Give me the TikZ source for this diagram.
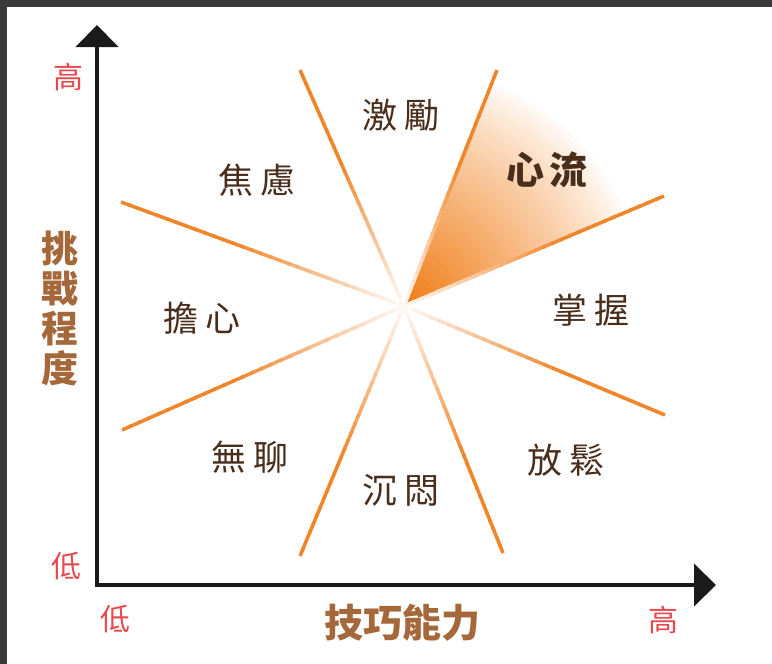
\documentclass[tikz,border=0pt]{standalone}
\usepackage{fontspec}
\setmainfont{Noto Sans CJK TC}
\usetikzlibrary{arrows.meta,calc}
\definecolor{framegray}{HTML}{3A3A3A}
\definecolor{lineor}{HTML}{F0862A}
\definecolor{flowor}{HTML}{F07E18}
\definecolor{zonebrown}{HTML}{4A2E1C}
\definecolor{axisred}{HTML}{E5484D}
\definecolor{axisbrown}{HTML}{A5683A}
\definecolor{axisblack}{HTML}{1A1A1A}
\begin{document}
\begin{tikzpicture}[x=1pt,y=-1pt,
  zonelabel/.style={text=zonebrown,font=\fontsize{35}{40}\selectfont,inner sep=0pt},
  flowlabel/.style={text=zonebrown,font=\bfseries\fontsize{38}{42}\selectfont,inner sep=0pt},
  levellabel/.style={text=axisred,font=\fontsize{30}{34}\selectfont,inner sep=0pt},
  axistitle/.style={text=axisbrown,font=\bfseries\fontsize{39}{42}\selectfont,inner sep=0pt},
  axisline/.style={draw=axisblack,line width=4.5pt,line join=miter,
    {Triangle[width=42pt,length=22pt]}-{Triangle[width=42pt,length=22pt]}}]
\useasboundingbox (0,0) rectangle (772,664);
\fill[framegray] (0,0) rectangle (772,664);
\fill[white] (7,7) rectangle (772,664);

% centre and ray ends
\coordinate (C) at (404,306);
\coordinate (ul) at (121,202);
\coordinate (tl) at (300,70);
\coordinate (tr) at (497,70);
\coordinate (ru) at (664,196);
\coordinate (rl) at (665,415);
\coordinate (br) at (503,553);
\coordinate (bl) at (300,556);
\coordinate (ll) at (122,430);

% flow wedge with gradient
\begin{scope}
  \clip (C) -- (tr) -- (ru) -- cycle;
  \foreach \k in {50,...,1}{
    \pgfmathsetmacro\p{100*(1-(\k-1)/50)^0.85}
    \fill[flowor!\p!white] (C) circle[radius=\k*4.8pt];
  }
\end{scope}

% rays fading towards the centre
\foreach \e in {ul,tl,tr,ru,rl,br,bl,ll}{
  \foreach \i in {1,...,30}{
    \pgfmathsetmacro\ta{(\i-1)/30}
    \pgfmathsetmacro\tb{min(1,\i/30+0.01)}
    \pgfmathsetmacro\p{min(100,100*(\i/30)/0.62)}
    \draw[line width=3.5pt,lineor!\p!white] ($(C)!\ta!(\e)$) -- ($(C)!\tb!(\e)$);
  }
}

% axes
\coordinate (ytop) at (97,25);
\coordinate (origin) at (97,585);
\coordinate (xend) at (716,585);
\draw[axisline] (ytop) -- (origin) -- (xend);

% zone labels
\node[zonelabel] (jili) at (401,115) {激\hspace{8pt}勵};
\node[zonelabel] (jiaolv) at (257,180) {焦\hspace{8pt}慮};
\node[flowlabel] (xinliu) at (547,170) {心\hspace{6pt}流};
\node[zonelabel] (danxin) at (202,318) {擔\hspace{8pt}心};
\node[zonelabel] (zhangwo) at (591,310) {掌\hspace{8pt}握};
\node[zonelabel] (wuliao) at (250,457) {無\hspace{8pt}聊};
\node[zonelabel] (chenmen) at (401,490) {沉\hspace{8pt}悶};
\node[zonelabel] (fangsong) at (566,460) {放\hspace{8pt}鬆};

% level labels
\node[levellabel] (yhigh) at (68,77) {高};
\node[levellabel] (ylow) at (67,566) {低};
\node[levellabel] (xlow) at (115,619) {低};
\node[levellabel] (xhigh) at (663,620) {高};

% axis titles
\node[axistitle,align=center,font=\bfseries\fontsize{37}{40}\selectfont] (ytitle) at (60,308) {挑\\戰\\程\\度};
\node[axistitle] (xtitle) at (402,623) {技巧能力};
\end{tikzpicture}
\end{document}
